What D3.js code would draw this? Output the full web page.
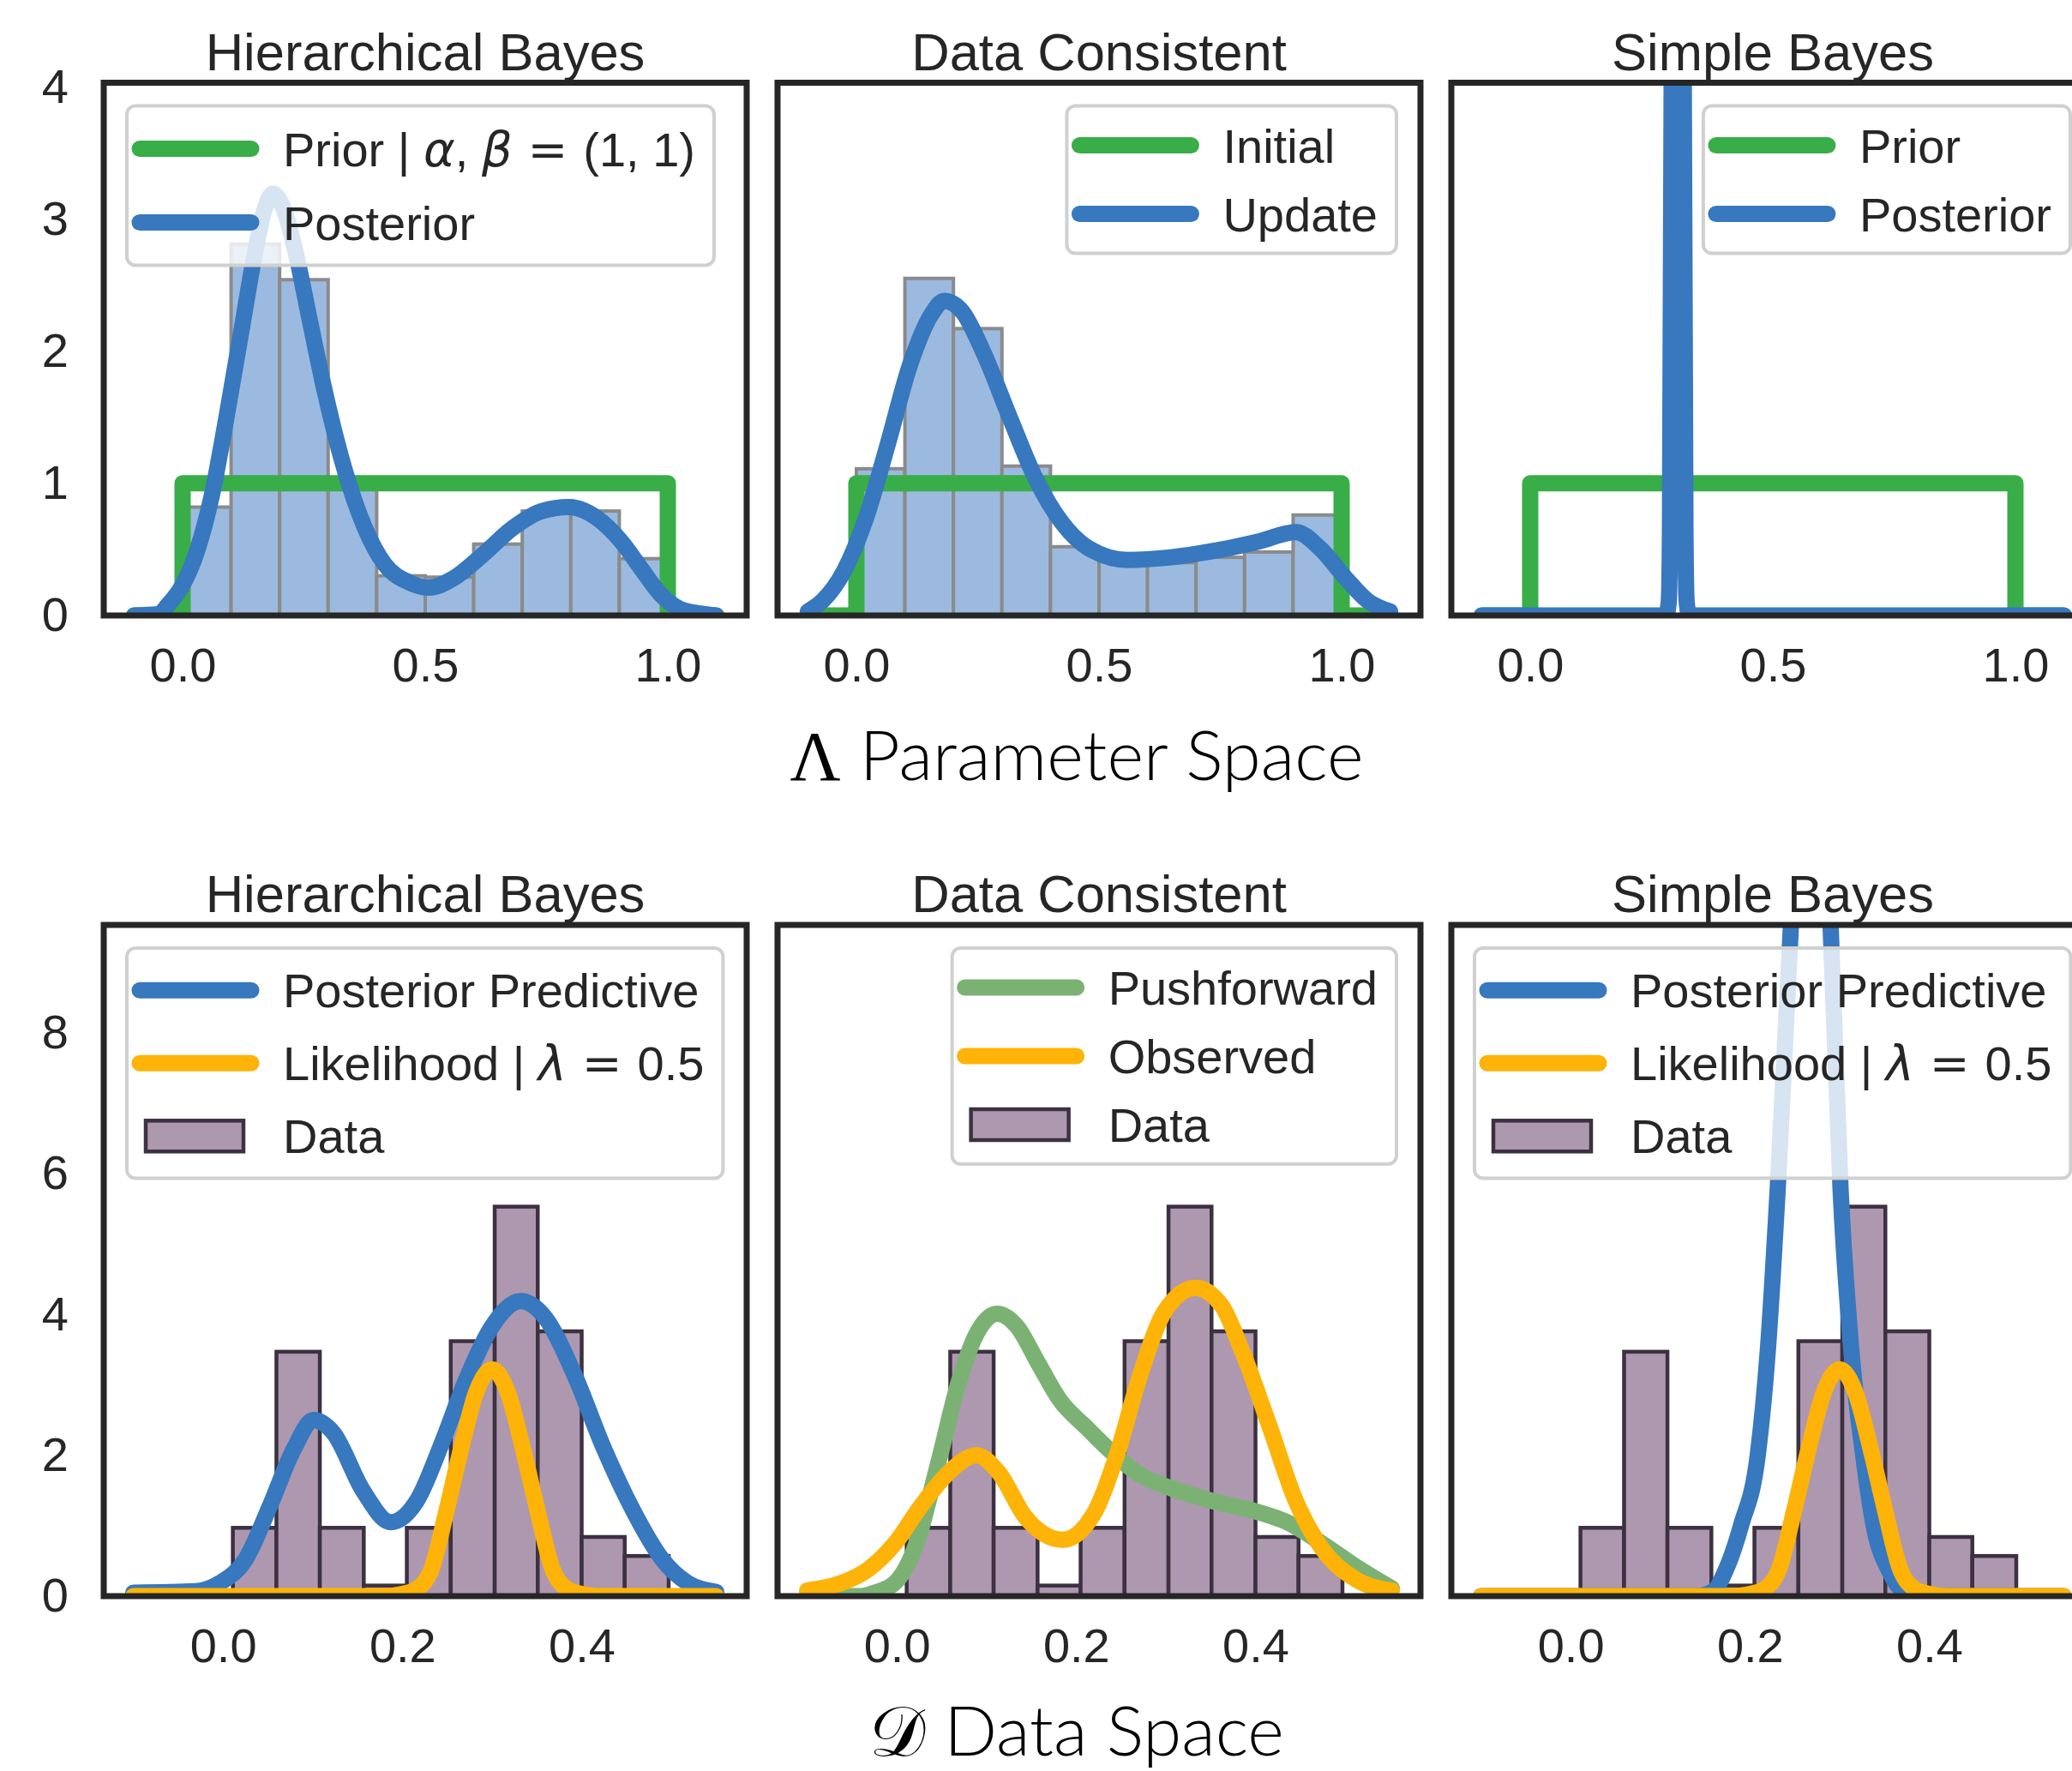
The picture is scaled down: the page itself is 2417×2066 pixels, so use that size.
<!DOCTYPE html>
<html>
<head>
<meta charset="utf-8">
<script src="https://d3js.org/d3.v7.min.js"></script>
<style>
body{margin:0;background:#fff}
text{font-family:"Liberation Sans",Arial,sans-serif;fill:#262626;white-space:pre}
</style>
</head>
<body>
<svg width="2417" height="2066"></svg>
<script>
// ---- parameter space (top row) ----
const lamEdges=[0,0.1,0.2,0.3,0.4,0.5,0.6,0.7,0.8,0.9,1.0]
const hbLamHist=[0.82,2.81,2.54,1.00,0.30,0.29,0.54,0.79,0.79,0.43]
const dcLamHist=[1.11,2.55,2.17,1.13,0.52,0.41,0.40,0.44,0.48,0.76]

const priorX=[-0.1,0,0,1,1,1.1]
const priorY=[0,0,1,1,0,0]

const hbPostX=[-0.10,-0.05,-0.03,0.00,0.03,0.061,0.091,0.122,0.147,0.168,0.186,0.208,0.234,0.264,0.294,0.335,0.376,0.416,0.467,0.508,0.558,0.619,0.68,0.741,0.797,0.853,0.904,0.944,0.985,1.025,1.066,1.10]
const hbPostY=[0.0,0.01,0.08,0.23,0.49,0.92,1.51,2.17,2.70,3.06,3.19,3.08,2.73,2.20,1.68,1.09,0.66,0.39,0.25,0.21,0.28,0.46,0.66,0.79,0.82,0.74,0.56,0.36,0.16,0.05,0.015,0.0]

const dcUpdX=[-0.10,-0.07,-0.025,0.02,0.065,0.11,0.155,0.181,0.218,0.263,0.317,0.37,0.424,0.478,0.559,0.649,0.739,0.829,0.906,0.955,1.009,1.054,1.10]
const dcUpdY=[0.03,0.11,0.34,0.74,1.30,1.89,2.28,2.38,2.30,1.98,1.49,1.03,0.70,0.51,0.42,0.44,0.49,0.56,0.63,0.51,0.28,0.11,0.03]

const sbPostX=[-0.10,0.280,0.2855,0.288,0.2915,0.295,0.304,0.313,0.3165,0.320,0.3225,0.328,1.10]
const sbPostY=[0,0,0.1,0.6,4.0,16,80,16,4.0,0.6,0.1,0,0]

// ---- data space (bottom row) ----
const dataEdges=[0.011,0.0596,0.108,0.157,0.205,0.254,0.303,0.351,0.400,0.448,0.497]
const dataHist=[0.97,3.47,0.97,0.15,0.97,3.62,5.53,3.76,0.84,0.57]

const hbPredX=[-0.10,-0.03,-0.003,0.025,0.052,0.079,0.101,0.123,0.156,0.187,0.216,0.244,0.271,0.299,0.332,0.359,0.392,0.425,0.458,0.49,0.518,0.55]
const hbPredY=[0.05,0.07,0.19,0.52,1.27,2.09,2.50,2.32,1.50,1.05,1.35,2.17,3.07,3.81,4.19,3.96,3.14,2.09,1.20,0.52,0.19,0.06]

const likeX=[-0.10,0.18,0.20,0.216,0.233,0.249,0.266,0.282,0.30,0.318,0.334,0.351,0.367,0.384,0.40,0.42,0.55]
const likeY=[0,0,0.03,0.1,0.4,1.2,2.12,2.88,3.22,2.88,2.12,1.2,0.4,0.1,0.03,0,0]

const pushX=[-0.10,-0.04,-0.027,-0.002,0.022,0.046,0.07,0.09,0.112,0.134,0.158,0.182,0.211,0.241,0.27,0.304,0.352,0.401,0.435,0.474,0.513,0.552]
const pushY=[0,0,0.04,0.19,0.75,1.88,3.08,3.75,4.01,3.83,3.30,2.78,2.40,2.03,1.73,1.54,1.35,1.20,1.05,0.75,0.41,0.11]

const obsX=[-0.10,-0.061,-0.032,-0.002,0.027,0.056,0.089,0.114,0.143,0.185,0.221,0.246,0.27,0.299,0.333,0.362,0.386,0.416,0.445,0.474,0.513,0.552]
const obsY=[0.08,0.19,0.38,0.75,1.28,1.73,2.0,1.75,1.13,0.8,1.2,2.03,3.08,4.05,4.38,4.13,3.45,2.40,1.35,0.68,0.23,0.08]

const sbPredX=[-0.10,0.14,0.16,0.172,0.19,0.209,0.22,0.231,0.2456,0.255,0.267,0.279,0.29,0.301,0.313,0.326,0.338,0.356,0.37,0.39,0.55]
const sbPredY=[0,0,0.08,0.34,1.0,2.03,3.5,5.79,9.5,11.8,13.2,11.8,9.5,5.79,3.5,2.03,1.0,0.34,0.08,0,0]

const topTicksX=[0,0.5,1], topTicksY=[0,1,2,3,4]
const botTicksX=[0,0.2,0.4], botTicksY=[0,2,4,6,8]
const titles=["Hierarchical Bayes","Data Consistent","Simple Bayes"]

const green="#39ad48", blue="#3778bf", amber="#feb308", faded="#7bb274"
const lamFill="#9cbadf", lamEdge="#8b8b8b", datFill="#ad98b0", datEdge="#3c3140"
const LW=19

const svg=d3.select("svg")
svg.append("rect").attr("width",2417).attr("height",2066).attr("fill","#fff")

const panelLeft=[121,907,1693], panelW=750
const rows=[{top:96.5,h:621.5,xd:[-0.1625,1.1625],yd:[0,4.03],tx:topTicksX,ty:topTicksY,fmt:d3.format(".1f")},
            {top:1079,h:783,xd:[-0.133,0.584],yd:[0,9.53],tx:botTicksX,ty:botTicksY,fmt:d3.format(".1f")}]

// legend label pieces: "m" = math symbol font, "i" = math italic
const panels=[
 {row:0,col:0,hist:[lamEdges,hbLamHist,lamFill,lamEdge,4],
  lines:[[priorX,priorY,green,true],[hbPostX,hbPostY,blue]],
  legend:{side:"left",step:86,items:[["line",green,[["Prior | "],["α","i"],[", "],["β","i"],[" = ","m"],["(1, 1)"]]],["line",blue,[["Posterior"]]]]}},
 {row:0,col:1,hist:[lamEdges,dcLamHist,lamFill,lamEdge,4],
  lines:[[priorX,priorY,green,true],[dcUpdX,dcUpdY,blue]],
  legend:{side:"right",step:80,items:[["line",green,[["Initial"]]],["line",blue,[["Update"]]]]}},
 {row:0,col:2,hist:null,
  lines:[[priorX,priorY,green,true],[sbPostX,sbPostY,blue]],
  legend:{side:"right",step:80,items:[["line",green,[["Prior"]]],["line",blue,[["Posterior"]]]]}},
 {row:1,col:0,hist:[dataEdges,dataHist,datFill,datEdge,4.5],
  lines:[[hbPredX,hbPredY,blue],[likeX,likeY,amber]],
  legend:{side:"left",step:85,items:[["line",blue,[["Posterior Predictive"]]],["line",amber,[["Likelihood | "],["λ","i"],[" = ","m"],["0.5"]]],["rect",datFill,[["Data"]]]]}},
 {row:1,col:1,hist:[dataEdges,dataHist,datFill,datEdge,4.5],
  lines:[[pushX,pushY,faded],[obsX,obsY,amber]],
  legend:{side:"right",step:80,items:[["line",faded,[["Pushforward"]]],["line",amber,[["Observed"]]],["rect",datFill,[["Data"]]]]}},
 {row:1,col:2,hist:[dataEdges,dataHist,datFill,datEdge,4.5],
  lines:[[sbPredX,sbPredY,blue],[likeX,likeY,amber]],
  legend:{side:"left",step:85,items:[["line",blue,[["Posterior Predictive"]]],["line",amber,[["Likelihood | "],["λ","i"],[" = ","m"],["0.5"]]],["rect",datFill,[["Data"]]]]}}
]

const FS=56

panels.forEach(p=>{
  const r=rows[p.row], left=panelLeft[p.col]
  const g=svg.append("g").attr("transform","translate("+left+","+r.top+")")
  const xs=d3.scaleLinear().domain(r.xd).range([0,panelW])
  const ys=d3.scaleLinear().domain(r.yd).range([r.h,0])
  const cid="clip"+p.row+p.col
  g.append("clipPath").attr("id",cid).append("rect").attr("width",panelW).attr("height",r.h)
  const plot=g.append("g").attr("clip-path","url(#"+cid+")")

  if(p.hist){
    const [edges,hs,fill,edge,sw]=p.hist
    plot.selectAll("rect.bar").data(hs).join("rect").attr("class","bar")
      .attr("x",(d,i)=>xs(edges[i]))
      .attr("width",(d,i)=>xs(edges[i+1])-xs(edges[i]))
      .attr("y",d=>ys(d))
      .attr("height",d=>ys(0)-ys(d))
      .attr("fill",fill).attr("stroke",edge).attr("stroke-width",sw)
  }

  p.lines.forEach(([lx,ly,color,step])=>{
    const pts=lx.map((v,i)=>[v,ly[i]])
    plot.append("path").datum(pts)
      .attr("d",d3.line().x(d=>xs(d[0])).y(d=>ys(d[1])).curve(step?d3.curveLinear:d3.curveMonotoneX))
      .attr("fill","none").attr("stroke",color).attr("stroke-width",LW)
      .attr("stroke-linecap","round").attr("stroke-linejoin","round")
  })

  g.append("rect").attr("width",panelW).attr("height",r.h)
    .attr("fill","none").attr("stroke","#262626").attr("stroke-width",7)

  const xa=g.append("g").attr("transform","translate(0,"+r.h+")")
    .call(d3.axisBottom(xs).tickValues(r.tx).tickFormat(r.fmt).tickSize(0).tickPadding(77-0.71*FS))
  xa.select(".domain").remove()
  xa.selectAll("text").attr("font-size",FS).attr("font-family","Liberation Sans").attr("fill","#262626")

  if(p.col==0){
    const ya=g.append("g").call(d3.axisLeft(ys).tickValues(r.ty).tickFormat(d3.format("d")).tickSize(0).tickPadding(41))
    ya.select(".domain").remove()
    ya.selectAll("text").attr("font-size",FS).attr("font-family","Liberation Sans").attr("fill","#262626")
  }

  g.append("text").attr("x",panelW/2).attr("y",-15).attr("text-anchor","middle")
    .style("font-size","61.5px").text(titles[p.col])

  // legend
  const lg=p.legend, n=lg.items.length
  const first=46+(lg.step-80)*0.66
  const lh=2*first+(n-1)*lg.step
  const L=g.append("g")
  const frame=L.append("rect").attr("height",lh).attr("rx",10)
    .attr("fill","#fff").attr("fill-opacity",0.8).attr("stroke","#d0d0d0").attr("stroke-width",4)
  let tw=0
  lg.items.forEach(([kind,color,parts],i)=>{
    const cy=first+i*lg.step
    if(kind=="line"){
      L.append("line").attr("x1",15).attr("x2",145).attr("y1",cy).attr("y2",cy)
        .attr("stroke",color).attr("stroke-width",LW).attr("stroke-linecap","round")
    }else{
      L.append("rect").attr("x",22).attr("y",cy-18).attr("width",114).attr("height",36)
        .attr("fill",color).attr("stroke",datEdge).attr("stroke-width",4.5)
    }
    const t=L.append("text").attr("x",182).attr("y",cy+0.36*FS).style("font-size",FS+"px")
    parts.forEach(([s,st])=>{
      const ts=t.append("tspan").text(s)
      if(st=="i") ts.style("font-style","italic").style("font-family","DejaVu Sans")
      if(st=="m") ts.style("font-family","DejaVu Sans")
    })
    tw=Math.max(tw,t.node().getComputedTextLength())
  })
  const lw=182+tw+22
  frame.attr("width",lw)
  const lx=lg.side=="left"?27:panelW-28-lw
  L.attr("transform","translate("+lx+",27)")
})

// space labels under each row
function spaceLabel(sym,symFont,rest,cx,base,targetW){
  const t=svg.append("text").attr("x",cx).attr("y",base).attr("text-anchor","middle")
    .style("font-size","90px").style("fill","#000")
  t.append("tspan").text(sym).style("font-family",symFont)
  t.append("tspan").text(rest).style("font-family","Lato").style("font-weight",300)
  const w=t.node().getComputedTextLength()
  t.style("font-size",(90*targetW/w)+"px")
}
spaceLabel("Λ","Liberation Serif"," Parameter Space",1256,910,669)
spaceLabel("𝒟","DejaVu Serif"," Data Space",1256,2048,484)
</script>
</body>
</html>
